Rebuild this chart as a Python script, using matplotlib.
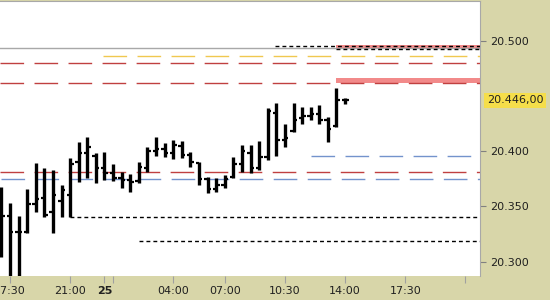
import matplotlib.pyplot as plt
from matplotlib.ticker import FuncFormatter

# 30-minute OHLC bars, index 0 = 17:00 (one hour break 22:00-23:00)
opens = [20360, 20341, 20327, 20327, 20352, 20358, 20345, 20355, 20360, 20390,
         20398, 20396, 20385, 20380, 20376, 20374, 20373, 20385, 20400, 20402,
         20398, 20405, 20397, 20389, 20375, 20366, 20369, 20377, 20388, 20398,
         20385, 20395, 20435, 20410, 20418, 20430, 20432, 20434, 20428, 20423,
         20446]
highs = [20368, 20353, 20341, 20366, 20389, 20385, 20383, 20369, 20394, 20408,
         20413, 20398, 20399, 20388, 20381, 20379, 20390, 20404, 20413, 20407,
         20410, 20409, 20399, 20390, 20377, 20376, 20378, 20395, 20406, 20406,
         20409, 20439, 20444, 20425, 20444, 20440, 20440, 20442, 20431, 20457,
         20448]
lows = [20304, 20282, 20284, 20326, 20345, 20340, 20326, 20340, 20340, 20372,
        20376, 20371, 20374, 20373, 20367, 20363, 20371, 20381, 20396, 20395,
        20393, 20394, 20386, 20369, 20362, 20363, 20367, 20376, 20381, 20380,
        20383, 20392, 20396, 20404, 20417, 20425, 20428, 20425, 20408, 20422,
        20443]
closes = [20341, 20327, 20327, 20352, 20357, 20342, 20360, 20365, 20388, 20398,
          20404, 20385, 20380, 20376, 20374, 20372, 20386, 20400, 20402, 20398,
          20406, 20397, 20390, 20375, 20366, 20369, 20375, 20388, 20400, 20385,
          20395, 20436, 20410, 20412, 20428, 20432, 20434, 20428, 20420, 20446,
          20446]

tick_pos = [1, 8, 12, 13, 20, 26, 33, 40, 47, 54]
tick_labels = ['17:30', '21:00', '25', '', '04:00', '07:00', '10:30', '14:00', '17:30', '']

# horizontal levels: (price, first bar, colour, style)
red_levels = [20479.8, 20462.2, 20380.9]
blue_levels = [(20395.3, 36), (20374.6, 0)]
yellow_level = (20485.9, 11.85)
black_levels = [(20495.2, 31.8), (20492.8, 39), (20340.2, 8), (20319.0, 16)]
gray_level = 20493.1
zones = [(20492.5, 20496.4, 39), (20461.7, 20466.2, 39)]
last_price = 20446

beige = '#d8d6a9'
fig = plt.figure(figsize=(5.5, 3), dpi=100, facecolor=beige)
ax = fig.add_axes([0, 24 / 300, 480 / 550, 275 / 300])
ax.set_facecolor('white')

x0, x1 = -0.16, 55.7
ax.set_xlim(x0, x1)
ax.set_ylim(20287, 20536)

# levels
ax.axhline(gray_level, color='#a8a8a8', lw=1)
for lo, hi, start in zones:
    ax.fill_between([start, x1], lo, hi, color='#f28a8a', lw=0)
for p in red_levels:
    ax.plot([x0, x1], [p, p], color='#c04040', lw=1, dashes=(17, 7.5))
for p, start in blue_levels:
    ax.plot([start, x1], [p, p], color='#7393cc', lw=1, dashes=(17, 7.5))
ax.plot([yellow_level[1], x1], [yellow_level[0]] * 2, color='#f0c850', lw=1, dashes=(17, 7.5))
for p, start in black_levels:
    ax.plot([start, x1], [p, p], color='black', lw=1, dashes=(2.8, 2.2))

# OHLC bars
idx = list(range(len(opens)))
ax.vlines(idx, lows, highs, color='black', lw=2.4)
ax.hlines(opens, [i - 0.4 for i in idx], idx, color='black', lw=1.6)
ax.hlines(closes, idx, [i + 0.4 for i in idx], color='black', lw=1.6)

# axes styling
for s in ['left', 'bottom']:
    ax.spines[s].set_visible(False)
for s in ['top', 'right']:
    ax.spines[s].set_color('#a8a8a8')

ax.yaxis.tick_right()
ax.set_yticks([20300, 20350, 20400, 20500])
ax.yaxis.set_major_formatter(FuncFormatter(lambda v, p: f'{v / 1000:.3f}'))
ax.tick_params(axis='y', length=4, color='#808080', labelsize=8, pad=3, labelcolor='#202020')

ax.set_xticks(tick_pos)
ax.set_xticklabels(tick_labels)
ax.tick_params(axis='x', length=5, color='#a0a0a0', labelsize=8, pad=2, labelcolor='#202020')
for t in ax.get_xticklabels():
    if t.get_text() == '25':
        t.set_fontweight('bold')

ax.annotate(f'{last_price / 1000:.3f},00', xy=(1.015, last_price),
            xycoords=('axes fraction', 'data'), va='center', ha='left',
            fontsize=8, color='#202020',
            bbox=dict(boxstyle='square,pad=0.25', fc='#f5de4a', ec='none'))
ax.annotate('', xy=(1.0, last_price), xycoords=('axes fraction', 'data'))

fig.savefig('out.png', dpi=100, facecolor=beige)
